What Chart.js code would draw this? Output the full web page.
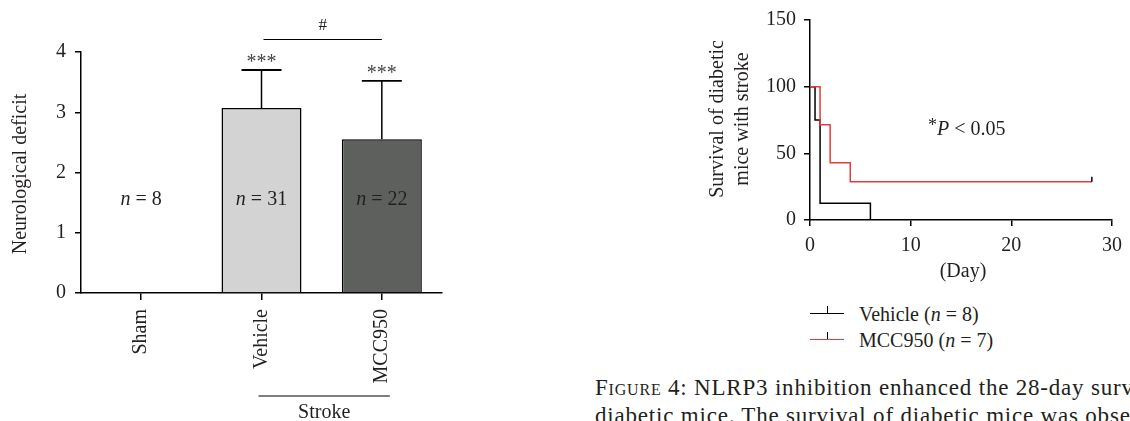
<!DOCTYPE html>
<html>
<head>
<meta charset="utf-8">
<script src="https://cdn.jsdelivr.net/npm/chart.js@4.4.1/dist/chart.umd.min.js"></script>
<style>
  html, body { margin: 0; padding: 0; background: #fff; overflow: hidden; }
  body { width: 1130px; height: 421px; position: relative; font-family: "Liberation Serif", "DejaVu Serif", serif; color: #231f20; }
  #deficitWrap { position: absolute; left: 0; top: 0; width: 480px; height: 421px; }
  #survivalWrap { position: absolute; left: 680px; top: 0; width: 450px; height: 300px; }
  .legend { position: absolute; left: 810px; font-size: 20px; line-height: 20px; }
  .legend .line { position: absolute; left: 0; width: 34px; height: 0; border-top: 1.5px solid #000; }
  .legend .tick { position: absolute; left: 17px; width: 0; height: 7px; border-left: 1.5px solid #000; }
  .legend .txt { position: absolute; left: 49px; white-space: nowrap; }
  .caption { position: absolute; left: 595px; font-size: 23px; letter-spacing: 0.8px; white-space: nowrap; }
</style>
</head>
<body>
<div id="deficitWrap"><canvas id="deficitChart" width="480" height="421"></canvas></div>
<div id="survivalWrap"><canvas id="survivalChart" width="450" height="300"></canvas></div>

<div class="legend" style="top:304px">
  <span class="line" style="top:9px"></span><span class="tick" style="top:2px"></span>
  <span class="txt">Vehicle (<i>n</i> = 8)</span>
</div>
<div class="legend" style="top:330px">
  <span class="line" style="top:9px;border-color:#e83a3a"></span><span class="tick" style="top:2px"></span>
  <span class="txt">MCC950 (<i>n</i> = 7)</span>
</div>

<div class="caption" style="top:375px"><span style="font-variant:small-caps">Figure</span> 4: NLRP3 inhibition enhanced the 28-day survival of</div>
<div class="caption" style="top:403px">diabetic mice. The survival of diabetic mice was observed</div>

<script>
// data - neurological deficit
const groups = ["Sham", "Vehicle", "MCC950"];
const deficitMean = [0, 3.07, 2.55];
const deficitUpper = [0, 3.70, 3.52];
const groupN = ["8", "31", "22"];
const barColors = ["#ffffff", "#d3d3d3", "#5e605e"];
const deficitTicks = [0, 1, 2, 3, 4];

// data - survival (Kaplan-Meier)
const vehicleDays = [0, 0.5, 1, 6];
const vehicleSurvival = [100, 75, 12.5, 0];
const mccDays = [0, 1, 2, 4, 28];
const mccSurvival = [100, 71.4, 42.9, 28.6, 28.6];

const serif = '"Liberation Serif", "DejaVu Serif", serif';
const ink = "#231f20";

// helper untuk teks dengan n miring
function drawNText(ctx, cx, cy, num) {
  ctx.font = "italic 20px " + serif;
  const w1 = ctx.measureText("n").width;
  ctx.font = "20px " + serif;
  const w2 = ctx.measureText(" = " + num).width;
  let x = cx - (w1 + w2) / 2;
  ctx.textAlign = "left";
  ctx.textBaseline = "middle";
  ctx.font = "italic 20px " + serif;
  ctx.fillText("n", x, cy);
  ctx.font = "20px " + serif;
  ctx.fillText(" = " + num, x + w1, cy);
}

// plugin anotasi grafik batang
const deficitAnnotations = {
  id: "deficitAnnotations",
  afterDatasetsDraw(chart) {
    const ctx = chart.ctx;
    const xs = chart.scales.x;
    const ys = chart.scales.y;
    ctx.save();
    ctx.fillStyle = ink;
    ctx.strokeStyle = "#000";

    // error bars + bintang
    groups.forEach((g, i) => {
      if (deficitUpper[i] <= deficitMean[i]) return;
      const x = xs.getPixelForValue(i);
      const yTop = ys.getPixelForValue(deficitMean[i]);
      const yErr = ys.getPixelForValue(deficitUpper[i]);
      ctx.lineWidth = 1.5;
      ctx.beginPath();
      ctx.moveTo(x, yTop);
      ctx.lineTo(x, yErr);
      ctx.stroke();
      ctx.lineWidth = i === 1 ? 2 : 1.6;
      ctx.beginPath();
      ctx.moveTo(x - 20, yErr);
      ctx.lineTo(x + 20, yErr);
      ctx.stroke();
      ctx.fillStyle = "#444";
      ctx.font = "20px " + serif;
      ctx.textAlign = "center";
      ctx.textBaseline = "alphabetic";
      ctx.fillText("***", x, yErr - 2);
      ctx.fillStyle = ink;
    });

    // n labels
    groups.forEach((g, i) => {
      drawNText(ctx, xs.getPixelForValue(i), ys.getPixelForValue(1.55), groupN[i]);
    });

    // # antara Vehicle dan MCC950
    const x1 = xs.getPixelForValue(1) + 2;
    const x2 = xs.getPixelForValue(2);
    ctx.lineWidth = 1.2;
    ctx.beginPath();
    ctx.moveTo(x1, 39.5);
    ctx.lineTo(x2, 39.5);
    ctx.stroke();
    ctx.font = "17px " + serif;
    ctx.textAlign = "center";
    ctx.textBaseline = "middle";
    ctx.fillText("#", (x1 + x2) / 2, 26);

    // Stroke grouping
    const s1 = xs.getPixelForValue(1) - 3;
    const s2 = xs.getPixelForValue(2) + 8;
    ctx.beginPath();
    ctx.moveTo(s1, 396);
    ctx.lineTo(s2, 396);
    ctx.stroke();
    ctx.font = "20px " + serif;
    ctx.textBaseline = "alphabetic";
    ctx.fillText("Stroke", (s1 + s2) / 2, 418);

    // judul sumbu y
    ctx.translate(21, 174);
    ctx.rotate(-Math.PI / 2);
    ctx.textBaseline = "middle";
    ctx.fillText("Neurological deficit", 0, 0);
    ctx.restore();
  },
};

// plugin anotasi grafik survival
const survivalAnnotations = {
  id: "survivalAnnotations",
  afterDatasetsDraw(chart) {
    const ctx = chart.ctx;
    const xs = chart.scales.x;
    const ys = chart.scales.y;
    ctx.save();
    ctx.fillStyle = ink;

    // censor tick di akhir kurva MCC950
    const last = mccDays.length - 1;
    const cx = xs.getPixelForValue(mccDays[last]);
    const cy = ys.getPixelForValue(mccSurvival[last]);
    ctx.strokeStyle = "#000";
    ctx.lineWidth = 1.5;
    ctx.beginPath();
    ctx.moveTo(cx, cy);
    ctx.lineTo(cx, cy - 5);
    ctx.stroke();

    // *P < 0.05
    ctx.textAlign = "left";
    ctx.textBaseline = "alphabetic";
    ctx.font = "18px " + serif;
    ctx.fillText("*", 248, 131);
    ctx.font = "italic 20px " + serif;
    ctx.fillText("P", 257, 135);
    const wp = ctx.measureText("P").width;
    ctx.font = "20px " + serif;
    ctx.fillText(" < 0.05", 257 + wp, 135);

    // (Day)
    ctx.textAlign = "center";
    ctx.fillText("(Day)", 283, 277);

    // judul sumbu y (dua baris)
    ctx.translate(0, 119);
    ctx.rotate(-Math.PI / 2);
    ctx.textBaseline = "middle";
    ctx.fillText("Survival of diabetic", 0, 38);
    ctx.fillText("mice with stroke", 0, 63);
    ctx.restore();
  },
};

// Inisialisasi grafik batang
var ctx1 = document.getElementById("deficitChart").getContext("2d");
var deficitChart = new Chart(ctx1, {
  type: "bar",
  data: {
    labels: groups,
    datasets: [
      {
        label: "Neurological deficit",
        data: deficitMean,
        backgroundColor: barColors,
        borderColor: "#000",
        borderWidth: deficitMean.map((v) => (v > 0 ? 1.5 : 0)),
        barPercentage: 0.665,
        categoryPercentage: 1,
      },
    ],
  },
  options: {
    responsive: false,
    animation: false,
    layout: { padding: { top: 52, right: 38, left: 0, bottom: 0 } },
    plugins: { legend: { display: false }, tooltip: { enabled: false } },
    scales: {
      x: {
        grid: { display: true, drawOnChartArea: false, offset: false, tickLength: 7, color: "#000", lineWidth: 1.5 },
        border: { display: true, color: "#000", width: 1.5 },
        ticks: { minRotation: 90, maxRotation: 90, padding: 9, color: ink, font: { family: serif, size: 20 } },
        afterFit(scale) { scale.height = 128; },
      },
      y: {
        min: 0,
        max: 4,
        afterBuildTicks(scale) { scale.ticks = deficitTicks.map((v) => ({ value: v })); },
        grid: { display: true, drawOnChartArea: false, tickLength: 6, color: "#000", lineWidth: 1.5 },
        border: { display: true, color: "#000", width: 1.5 },
        ticks: { padding: 9, color: ink, font: { family: serif, size: 20 } },
        afterFit(scale) { scale.width = 81; },
      },
    },
  },
  plugins: [deficitAnnotations],
});

// Inisialisasi grafik survival
var ctx2 = document.getElementById("survivalChart").getContext("2d");
var survivalChart = new Chart(ctx2, {
  type: "line",
  data: {
    datasets: [
      {
        label: "Vehicle (n = 8)",
        data: vehicleDays.map((d, i) => ({ x: d, y: vehicleSurvival[i] })),
        borderColor: "#000",
        borderWidth: 1.5,
        stepped: "before",
        pointRadius: 0,
        fill: false,
        order: 1,
      },
      {
        label: "MCC950 (n = 7)",
        data: mccDays.map((d, i) => ({ x: d, y: mccSurvival[i] })),
        borderColor: "#e83a3a",
        borderWidth: 1.5,
        stepped: "before",
        pointRadius: 0,
        fill: false,
        order: 0,
      },
    ],
  },
  options: {
    responsive: false,
    animation: false,
    layout: { padding: { top: 16, right: 13, left: 0, bottom: 0 } },
    plugins: { legend: { display: false }, tooltip: { enabled: false } },
    scales: {
      x: {
        type: "linear",
        min: 0,
        max: 30,
        ticks: { stepSize: 10, padding: 8, color: ink, font: { family: serif, size: 20 } },
        grid: { display: true, drawOnChartArea: false, tickLength: 6, color: "#000", lineWidth: 1.5 },
        border: { display: true, color: "#000", width: 1.5 },
        afterFit(scale) { scale.height = 80; },
      },
      y: {
        min: 0,
        max: 150,
        ticks: { stepSize: 50, padding: 8, color: ink, font: { family: serif, size: 20 } },
        grid: { display: true, drawOnChartArea: false, tickLength: 6, color: "#000", lineWidth: 1.5 },
        border: { display: true, color: "#000", width: 1.5 },
        afterFit(scale) { scale.width = 130; },
      },
    },
  },
  plugins: [survivalAnnotations],
});
</script>
</body>
</html>
